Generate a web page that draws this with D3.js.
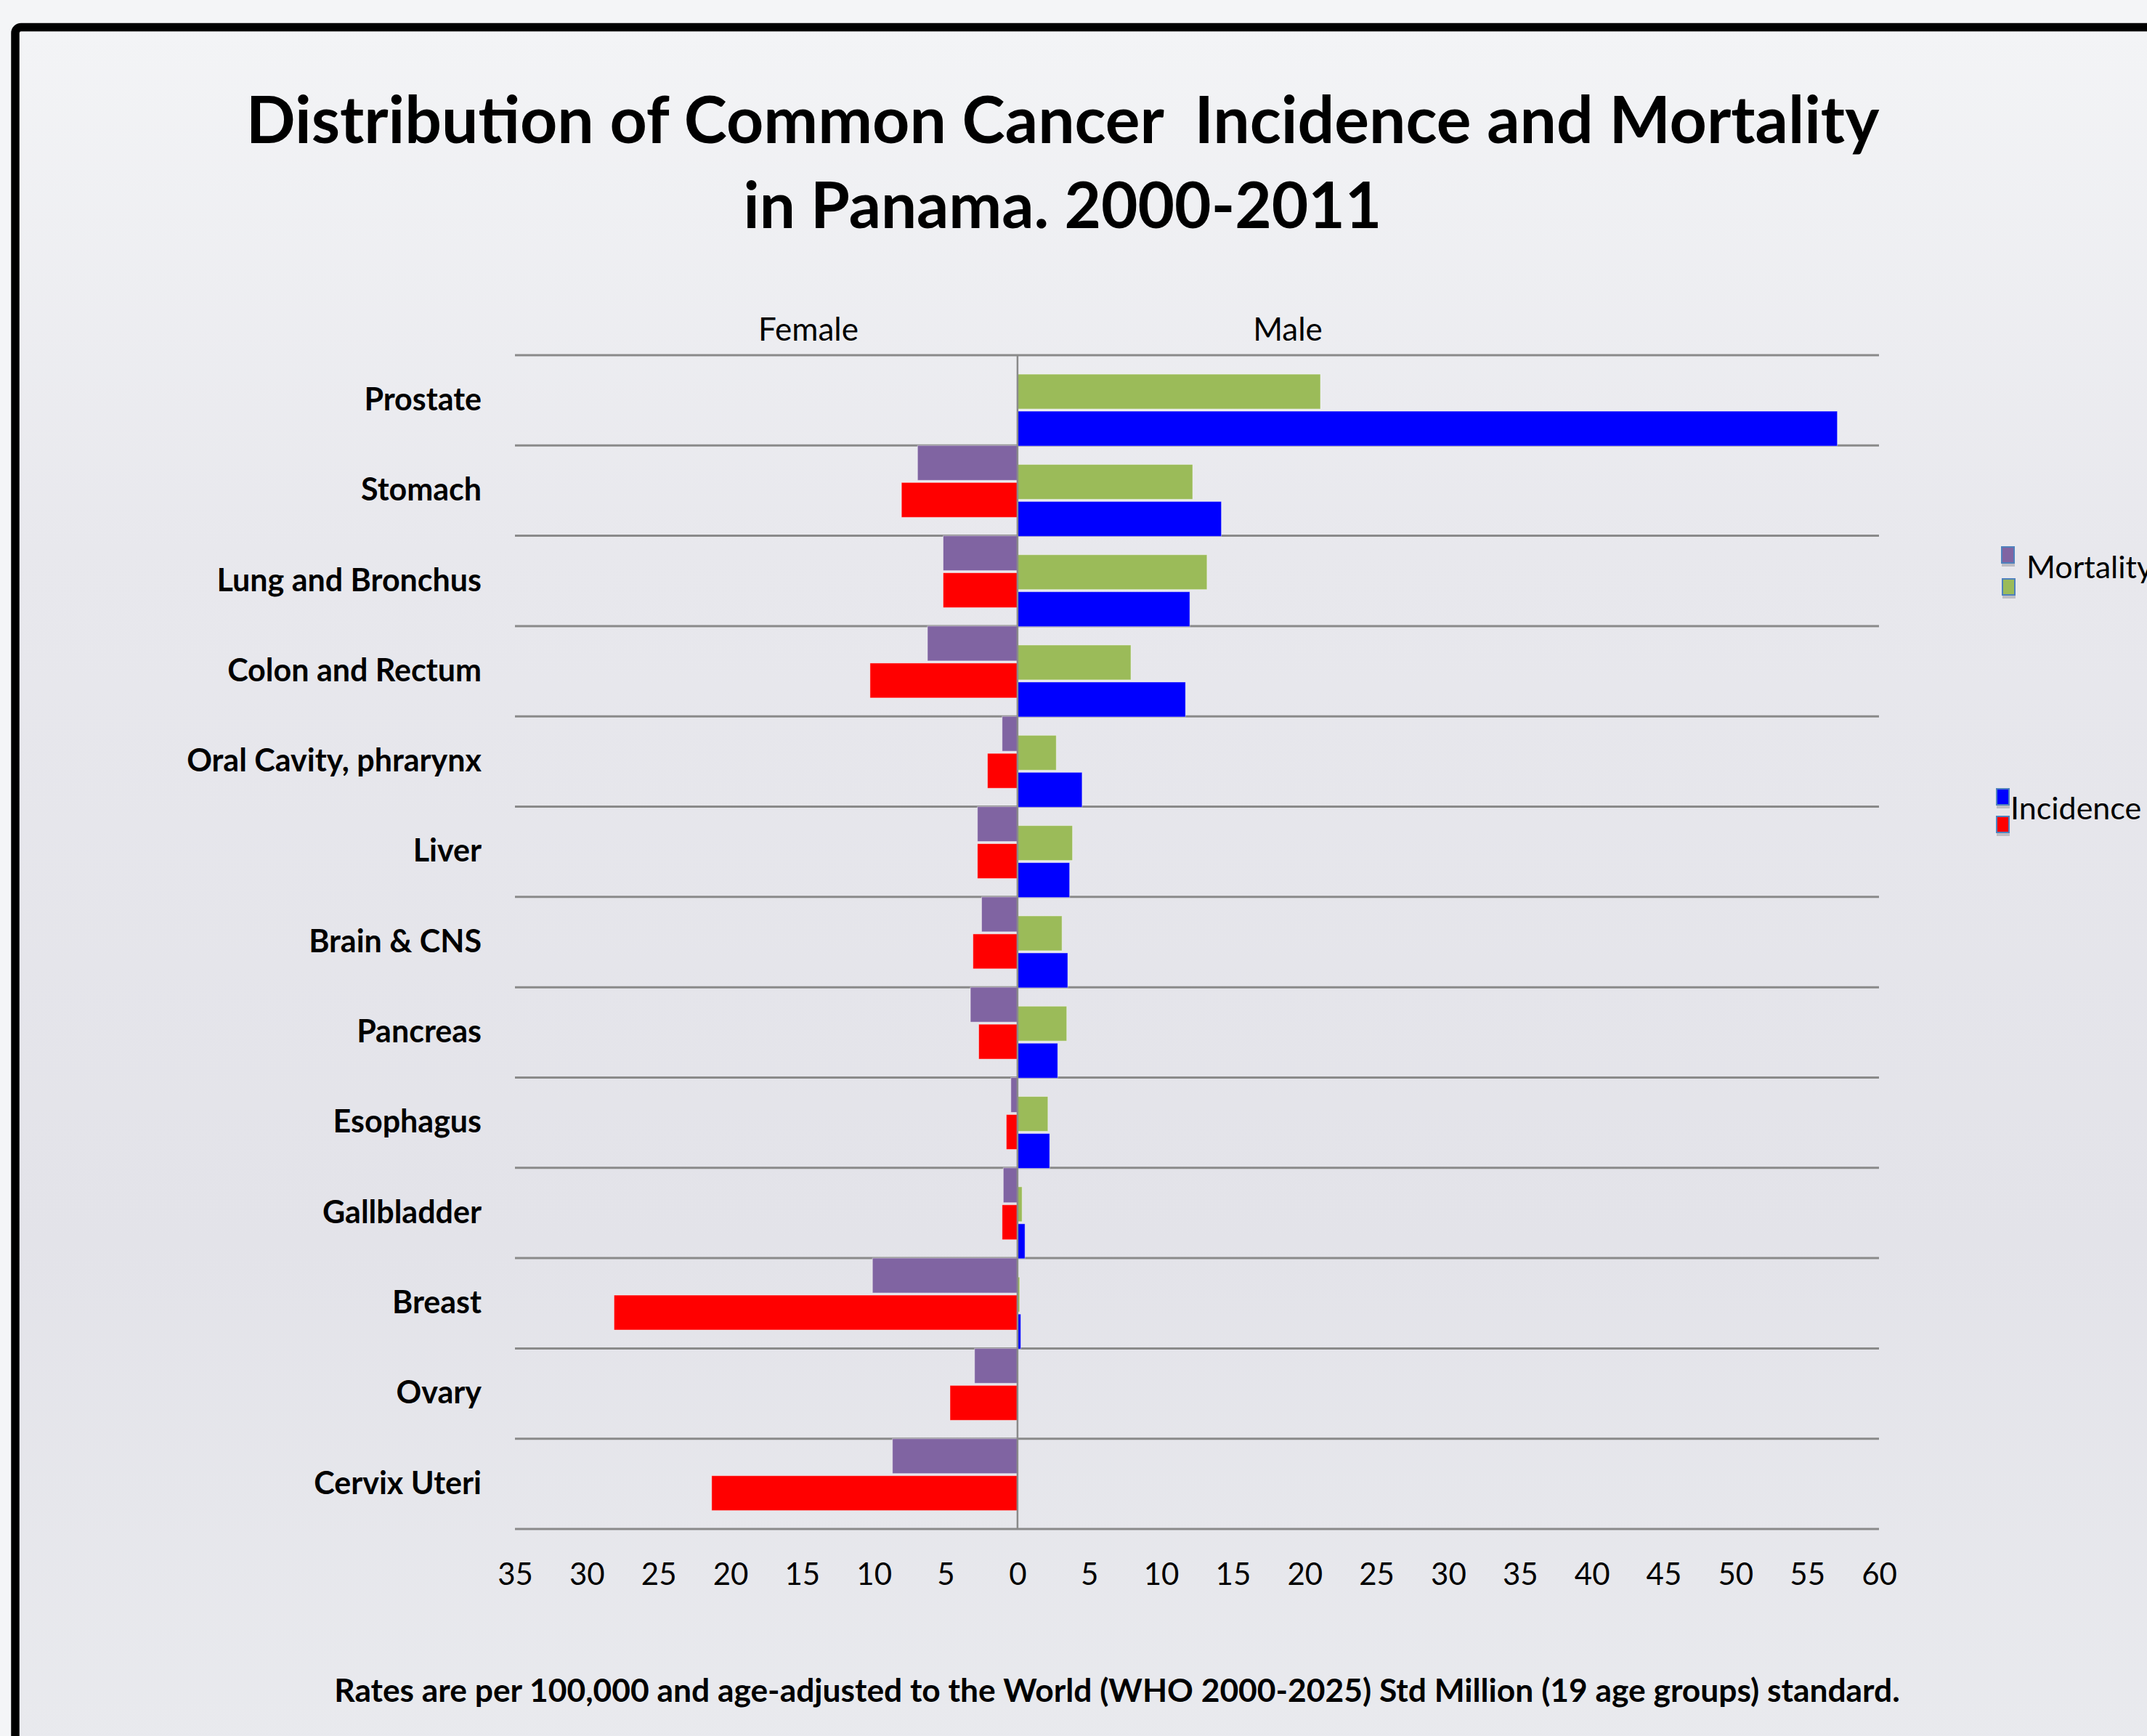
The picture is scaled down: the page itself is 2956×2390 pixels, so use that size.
<!DOCTYPE html>
<html>
<head>
<meta charset="utf-8">
<script src="https://cdn.jsdelivr.net/npm/d3@7"></script>
<style>
  html, body { margin: 0; padding: 0; background: #f4f5f7; }
  svg { display: block; }
</style>
</head>
<body>
<svg id="chart" width="2956" height="2390"></svg>
<script>
// categories, top to bottom
var categories = ["Prostate", "Stomach", "Lung and Bronchus", "Colon and Rectum",
    "Oral Cavity, phrarynx", "Liver", "Brain & CNS", "Pancreas", "Esophagus",
    "Gallbladder", "Breast", "Ovary", "Cervix Uteri"];

// rates per 100,000
var femaleMortality = [0, 6.96, 5.18, 6.27, 1.07, 2.79, 2.5, 3.28, 0.46, 0.99, 10.1, 2.99, 8.71];
var femaleIncidence = [0, 8.08, 5.18, 10.27, 2.09, 2.79, 3.1, 2.7, 0.78, 1.07, 28.1, 4.7, 21.3];
var maleMortality = [21.1, 12.2, 13.2, 7.9, 2.7, 3.83, 3.1, 3.43, 2.12, 0.32, 0.15, 0, 0];
var maleIncidence = [57.1, 14.2, 12.0, 11.7, 4.5, 3.63, 3.5, 2.8, 2.24, 0.52, 0.23, 0, 0];

var tickValues = d3.range(-35, 61, 5);

var titleLines = ["Distribution of Common Cancer  Incidence and Mortality", "in Panama. 2000-2011"];
var footnote = "Rates are per 100,000 and age-adjusted to the World (WHO 2000-2025) Std Million (19 age groups) standard.";

var colors = {
    femMort: "#8064a2",
    femInc: "#ff0000",
    maleMort: "#9bbb59",
    maleInc: "#0000ff"
};

var svg = d3.select("#chart"),
    width = 2956,
    height = 2390;

var font = "Lato, 'Open Sans', sans-serif";

// background (the slide)
var defs = svg.append("defs");
var bg = defs.append("linearGradient")
    .attr("id", "bg")
    .attr("x1", 0).attr("y1", 0).attr("x2", 0).attr("y2", 1);
bg.append("stop").attr("offset", "0%").attr("stop-color", "#f3f4f6");
bg.append("stop").attr("offset", "30%").attr("stop-color", "#e8e8ed");
bg.append("stop").attr("offset", "70%").attr("stop-color", "#e3e3e9");
bg.append("stop").attr("offset", "100%").attr("stop-color", "#e9eaee");

svg.append("rect")
    .attr("width", width).attr("height", height)
    .attr("fill", "#f4f5f7");
svg.append("rect")
    .attr("x", 21).attr("y", 37)
    .attr("width", width).attr("height", height)
    .attr("fill", "url(#bg)");

// black frame (top + left)
svg.append("rect")
    .attr("x", 21).attr("y", 37.5)
    .attr("width", width + 50).attr("height", height + 50)
    .attr("rx", 8)
    .attr("fill", "none")
    .attr("stroke", "#000")
    .attr("stroke-width", 11.5);

// scales
var x = d3.scaleLinear()
    .domain([-35, 60])
    .range([709, 2587]);

var y = d3.scaleBand()
    .domain(categories)
    .range([489, 2105])
    .padding(0);

var bw = y.bandwidth();
var barH = bw * 0.386;

// horizontal gridlines at band edges
var edges = categories.map(function(c) { return y(c); }).concat([y.range()[1]]);
svg.append("g")
    .attr("class", "grid")
    .selectAll("line")
    .data(edges)
    .enter().append("line")
    .attr("x1", x(-35))
    .attr("x2", x(60))
    .attr("y1", function(d) { return d; })
    .attr("y2", function(d) { return d; })
    .attr("stroke", "#8a8a8a")
    .attr("stroke-width", 3);

// series: values, colour and offset within the band
var series = [
    { values: femaleMortality, color: colors.femMort, offset: 0.0, female: true },
    { values: femaleIncidence, color: colors.femInc, offset: 0.41, female: true },
    { values: maleMortality, color: colors.maleMort, offset: 0.21, female: false },
    { values: maleIncidence, color: colors.maleInc, offset: 0.62, female: false }
];

series.forEach(function(s) {
    svg.append("g")
        .selectAll("rect")
        .data(s.values.map(function(v, j) { return { cat: categories[j], v: v }; })
            .filter(function(d) { return d.v > 0; }))
        .enter().append("rect")
        .attr("x", function(d) { return s.female ? x(-d.v) : x(0); })
        .attr("width", function(d) { return s.female ? x(0) - x(-d.v) : x(d.v) - x(0); })
        .attr("y", function(d) { return y(d.cat) + s.offset * bw; })
        .attr("height", barH)
        .attr("fill", s.color)
        .attr("stroke", "rgba(255,255,255,0.45)")
        .attr("stroke-width", 1);
});

// zero line
svg.append("line")
    .attr("x1", x(0)).attr("x2", x(0))
    .attr("y1", y.range()[0]).attr("y2", y.range()[1])
    .attr("stroke", "#8a8a8a")
    .attr("stroke-width", 2.5);

// x axis (labels only)
var xAxis = svg.append("g")
    .attr("transform", "translate(0," + y.range()[1] + ")")
    .call(d3.axisBottom(x)
        .tickValues(tickValues)
        .tickSize(0)
        .tickPadding(47)
        .tickFormat(function(d) { return Math.abs(d); }));
xAxis.select(".domain").remove();
xAxis.selectAll("text")
    .attr("font-family", font)
    .attr("font-size", 42)
    .attr("fill", "#000");

// category labels
var yAxis = svg.append("g")
    .attr("transform", "translate(" + x(-35) + ",0)")
    .call(d3.axisLeft(y).tickSize(0).tickPadding(46));
yAxis.select(".domain").remove();
yAxis.selectAll("text")
    .attr("font-family", font)
    .attr("font-weight", "bold")
    .attr("font-size", 43)
    .attr("fill", "#000");

// Female / Male headers
svg.append("text")
    .attr("x", 1113).attr("y", 469)
    .attr("text-anchor", "middle")
    .attr("font-family", font)
    .attr("font-size", 44)
    .text("Female");
svg.append("text")
    .attr("x", 1773).attr("y", 469)
    .attr("text-anchor", "middle")
    .attr("font-family", font)
    .attr("font-size", 44)
    .text("Male");

// title, fitted to the width it has on the slide
function fit(sel, target) {
    var w = sel.node().getComputedTextLength();
    var fs = +sel.attr("font-size");
    sel.attr("font-size", fs * target / w);
}

var t1 = svg.append("text")
    .attr("x", 1463).attr("y", 197)
    .attr("text-anchor", "middle")
    .attr("font-family", font)
    .attr("font-weight", "bold")
    .attr("font-size", 84)
    .style("white-space", "pre")
    .text(titleLines[0]);
fit(t1, 2249);

var t2 = svg.append("text")
    .attr("x", 1463).attr("y", 314)
    .attr("text-anchor", "middle")
    .attr("font-family", font)
    .attr("font-weight", "bold")
    .attr("font-size", 84)
    .text(titleLines[1]);
fit(t2, 879);

// footnote
var fn = svg.append("text")
    .attr("x", 1538).attr("y", 2343)
    .attr("text-anchor", "middle")
    .attr("font-family", font)
    .attr("font-weight", "bold")
    .attr("font-size", 42)
    .text(footnote);
fit(fn, 2156);

// legend (two groups, as on the slide)
var legendGroups = [
    { label: "Mortality", tx: 2790, ty: 796,
      keys: [{ c: colors.femMort, x: 2756, y: 753 }, { c: colors.maleMort, x: 2757, y: 797 }] },
    { label: "Incidence", tx: 2768, ty: 1128,
      keys: [{ c: colors.maleInc, x: 2749, y: 1086 }, { c: colors.femInc, x: 2749, y: 1124 }] }
];

legendGroups.forEach(function(g) {
    var lg = svg.append("g").attr("class", "legend");
    lg.selectAll("rect.shadow")
        .data(g.keys)
        .enter().append("rect")
        .attr("class", "shadow")
        .attr("x", function(d) { return d.x; })
        .attr("y", function(d) { return d.y + 4; })
        .attr("width", 18).attr("height", 23)
        .attr("fill", "#bdbdc4");
    lg.selectAll("rect.key")
        .data(g.keys)
        .enter().append("rect")
        .attr("class", "key")
        .attr("x", function(d) { return d.x; })
        .attr("y", function(d) { return d.y; })
        .attr("width", 17).attr("height", 22)
        .attr("fill", function(d) { return d.c; })
        .attr("stroke", "#4f81bd")
        .attr("stroke-width", 2);
    lg.append("text")
        .attr("x", g.tx).attr("y", g.ty)
        .attr("font-family", font)
        .attr("font-size", 43)
        .text(g.label);
});
</script>
</body>
</html>
